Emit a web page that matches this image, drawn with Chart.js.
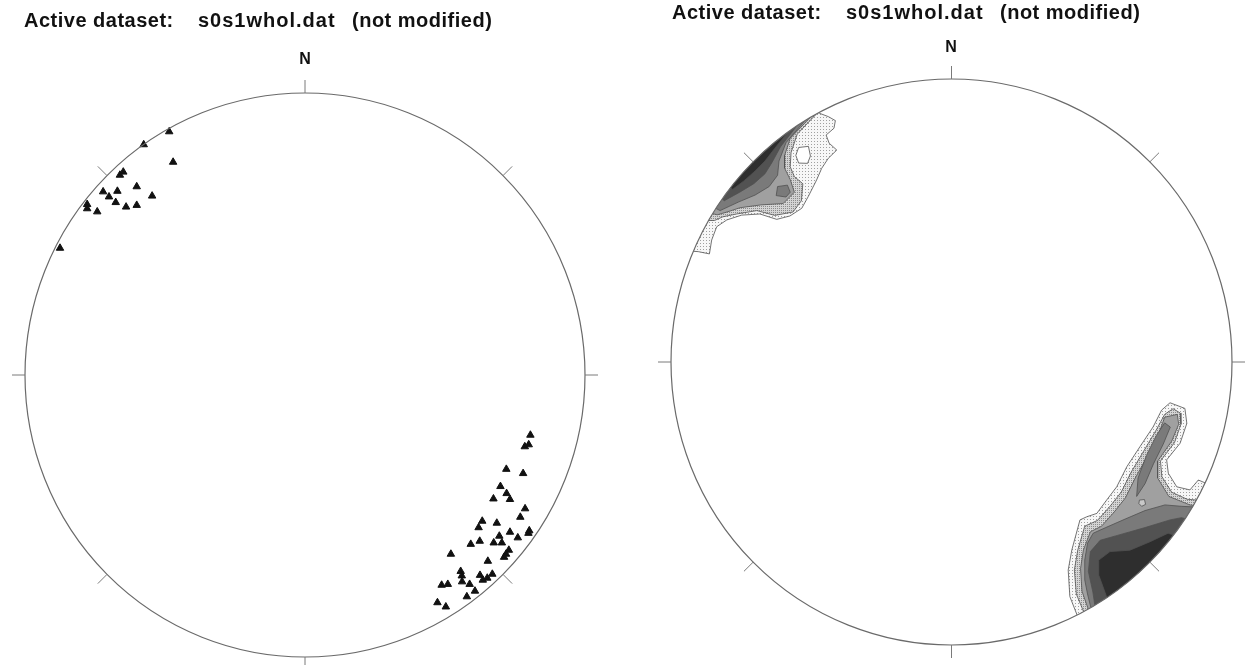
<!DOCTYPE html>
<html>
<head>
<meta charset="utf-8">
<title>s0s1whol.dat</title>
<script src="https://cdn.jsdelivr.net/npm/chart.js@4.4.1/dist/chart.umd.min.js"></script>
<style>
  html, body { margin: 0; padding: 0; background: #fff; }
  body { width: 1249px; height: 665px; position: relative; overflow: hidden;
         font-family: "Liberation Sans", Arial, sans-serif; color: #111; }
  canvas { position: absolute; top: 0; }
  .caption { position: absolute; font-weight: bold; font-size: 20px; line-height: 22px;
             letter-spacing: 0.5px; white-space: pre; }
  .caption.file { letter-spacing: 1px; }
  .north { position: absolute; font-weight: bold; font-size: 16px; line-height: 18px;
           width: 20px; margin-left: -10px; text-align: center; }
</style>
</head>
<body>
<canvas id="poles" width="624" height="665" style="left:0"></canvas>
<canvas id="density" width="624" height="665" style="left:625px"></canvas>
<div class="caption" style="left:24px; top:9px;">Active dataset:</div>
<div class="caption file" style="left:198px; top:9px;">s0s1whol.dat</div>
<div class="caption" style="left:352px; top:9px;">(not modified)</div>
<div class="caption" style="left:672px; top:1px;">Active dataset:</div>
<div class="caption file" style="left:846px; top:1px;">s0s1whol.dat</div>
<div class="caption" style="left:1000px; top:1px;">(not modified)</div>
<div class="north" style="left:305px; top:50px;">N</div>
<div class="north" style="left:951px; top:38px;">N</div>
<script>
// Poles of s0/s1 planes on the lower-hemisphere net, in percent of the primitive radius (E = +x, N = +y)
const poleX = [-48.5,-57.6,-47.1,-64.9,-66.1,-60.1,-72.1,-67.0,-70.0,-54.6,-67.6,-77.8,-77.8,-74.2,-63.9,-60.1,-87.5,
  80.5,78.5,79.9,71.9,77.9,69.8,72.0,67.3,73.2,78.6,76.9,63.3,68.5,62.0,73.2,80.1,79.8,69.4,76.0,62.4,
  59.2,67.4,70.3,72.8,71.8,71.1,52.1,65.3,55.6,56.0,62.5,65.1,66.9,63.5,56.1,58.8,48.8,51.0,60.7,57.8,47.3,50.3];
const poleY = [86.3,81.7,75.5,72.0,70.9,66.8,65.0,65.2,63.2,63.5,61.2,60.5,59.0,57.9,59.6,60.2,45.0,
  -21.3,-25.4,-24.7,-33.4,-34.9,-39.5,-42.0,-43.9,-44.1,-47.4,-50.4,-51.8,-52.5,-54.1,-55.7,-55.2,-56.1,-57.1,-57.7,-58.9,
  -60.0,-59.5,-59.5,-62.1,-63.5,-64.6,-63.5,-66.0,-69.6,-71.2,-71.0,-72.0,-70.6,-72.7,-73.3,-74.2,-74.5,-74.2,-76.6,-78.6,-80.7,-82.2];

// Density contours of the same poles; vertices beyond the primitive are cut off by the net outline
const nwLevel1 = [[-47.1,87.9],[-43.9,86.7],[-41.4,85.3],[-41.9,82.6],[-44.7,80.2],[-43.6,77.3],[-40.9,74.9],[-43.9,72.0],
  [-46.3,68.4],[-48.1,64.3],[-51.1,58.4],[-53.4,54.3],[-57.6,51.6],[-62.3,50.4],[-68.3,52.3],[-74.8,51.9],[-80.1,50.2],
  [-83.7,47.8],[-85.5,43.1],[-86.3,38.2],[-90.3,39.0],[-105,40],[-85,75],[-55,95],[-48,92],[-47.1,87.9]];
const nwGap = [[-54.5,75.8],[-51,76.2],[-50.3,72.8],[-51.3,70.2],[-54.5,70.3],[-55.5,73],[-54.5,75.8]];
const nwLevel2 = [[-48.5,87.3],[-55,80.5],[-57.2,74],[-57.5,69],[-56,65.5],[-53,63],[-53.5,57],[-56.5,53],[-63,51.8],
  [-69.4,53.5],[-76.6,52.3],[-81.5,51.3],[-84.5,50],[-97,50],[-72,86],[-50,95],[-48.5,87.3]];
const nwLevel3 = [[-50.5,86.3],[-57.5,79],[-59.5,73],[-59.5,68.5],[-57.5,64.5],[-56,60],[-60,56],[-68,55.5],[-75.4,54.5],
  [-80,53],[-83.5,52],[-96,55],[-72,88],[-52,94],[-50.5,86.3]];
const nwPeak = [[-62.0,62.0],[-58.5,62.5],[-57.5,60.0],[-59.0,58.3],[-62.5,58.8],[-62.0,62.0]];
const nwLevel4 = [[-52.5,85],[-59,77.5],[-61.5,71],[-62,66],[-65,62],[-70,59],[-76,56.5],[-82.5,53.5],[-95,60],[-70,90],
  [-55,93],[-52.5,85]];
const nwLevel5 = [[-55.5,83],[-61,76],[-64,70.5],[-66.5,66.5],[-70.5,63],[-75.5,60],[-81,57],[-92,66],[-70,90],[-57,92],
  [-55.5,83]];
const nwLevel6 = [[-58.5,81],[-63,75.5],[-66.5,71],[-70,67.5],[-74,64],[-78,61],[-90,70],[-70,90],[-60,90],[-58.5,81]];

const seLevel1 = [[74.9,-17.0],[77.9,-14.4],[83.2,-16.4],[83.9,-21.7],[81.5,-28.7],[76.7,-34.6],[77.3,-39.3],[80.3,-44.1],
  [85.0,-45.2],[88.0,-41.7],[103,-48],[80,-78],[50,-95],[45,-90],[42.2,-82.9],[41.6,-73.5],[42.9,-66.4],[45.8,-55.8],
  [48.2,-54.7],[51.8,-53.5],[55.3,-48.8],[58.9,-44.1],[62.5,-37.0],[67.2,-29.9],[71.9,-22.9],[74.9,-17.0]];
const seLevel2 = [[76,-18.5],[79,-16.5],[81.5,-18],[81.8,-22],[79.5,-28.5],[74.5,-35],[75,-40.5],[78.5,-46],[84,-48.5],
  [103,-50],[80,-80],[50,-95],[47,-88],[44.5,-82],[43.8,-73.5],[45,-66.5],[47.5,-58],[52,-56],[56.5,-51],[60.5,-46],
  [64,-39],[68.5,-31.5],[73,-24],[76,-18.5]];
const seLevel3 = [[76,-19.5],[80.5,-18.5],[81,-22],[78.5,-28],[73.5,-35],[73.5,-41],[77.5,-47.5],[85,-50.5],[103,-53],
  [78,-82],[50,-93],[49,-88],[46.5,-81],[46,-73],[47,-66.5],[49.5,-60],[53.5,-58],[58,-53],[62,-48],[65.5,-41],[70,-33],
  [74,-25],[76,-19.5]];
const seRidge = [[76,-21.5],[78,-23],[75.5,-29],[72,-36],[69,-43],[66,-47.5],[66.5,-41],[69.5,-33],[73,-26],[76,-21.5]];
const seGap = [[67,-48.8],[68.8,-48.6],[69.2,-50.3],[67.8,-51],[66.8,-50],[67,-48.8]];
const seLevel4 = [[48.5,-64],[50.5,-60.5],[55,-58.5],[61.9,-55.5],[69,-52.5],[76.1,-50.5],[82,-51],[103,-52],[78,-84],
  [51,-92],[48.5,-82],[47.5,-77],[47.5,-70],[48.5,-64]];
const seLevel5 = [[49.5,-67],[53,-63],[60.1,-61],[69,-58.5],[77.9,-55.8],[82,-55],[100,-60],[76,-87],[52,-92],[50.4,-81.3],
  [48.8,-74],[49.5,-67]];
const seLevel6 = [[52.5,-70],[56.5,-67],[63.6,-66.5],[70.8,-63.5],[77.2,-60.5],[95,-66],[72,-88],[57,-88],[54.7,-81.3],
  [52.5,-75.3],[52.5,-70]];

const levelShades = ['#f3f3f3', '#c8c8c8', '#a0a0a0', '#7a7a7a', '#525252', '#2e2e2e'];
const tickAzimuths = [0, 45, 90, 135, 180, 225, 270, 315];

// dotted fill used for the two lowest contour bands
function stipple(base, dot, step) {
  const tile = document.createElement('canvas');
  tile.width = step; tile.height = step;
  const t = tile.getContext('2d');
  t.fillStyle = base; t.fillRect(0, 0, step, step);
  t.fillStyle = dot; t.fillRect(0, 0, 1, 1);
  return t.createPattern(tile, 'repeat');
}

// primitive circle with outward azimuth ticks; optional clipping of the datasets to the net
const netFrame = {
  id: 'netFrame',
  beforeDatasetsDraw(chart, args, opts) {
    if (!opts.clip) return;
    const {ctx, scales: {x, y}} = chart;
    const cx = x.getPixelForValue(0), cy = y.getPixelForValue(0);
    const rx = x.getPixelForValue(100) - cx, ry = cy - y.getPixelForValue(100);
    ctx.save();
    ctx.beginPath();
    ctx.ellipse(cx, cy, rx, ry, 0, 0, Math.PI * 2);
    ctx.clip();
  },
  afterDatasetsDraw(chart, args, opts) {
    const {ctx, scales: {x, y}} = chart;
    if (opts.clip) ctx.restore();
    const cx = x.getPixelForValue(0), cy = y.getPixelForValue(0);
    const rx = x.getPixelForValue(100) - cx, ry = cy - y.getPixelForValue(100);
    ctx.save();
    ctx.strokeStyle = '#6a6a6a';
    ctx.lineWidth = 1.2;
    ctx.beginPath();
    ctx.ellipse(cx, cy, rx, ry, 0, 0, Math.PI * 2);
    ctx.stroke();
    ctx.strokeStyle = '#7a7a7a';
    ctx.lineWidth = 1;
    tickAzimuths.forEach(az => {
      const a = az * Math.PI / 180, ux = Math.sin(a), uy = -Math.cos(a);
      ctx.beginPath();
      ctx.moveTo(cx + rx * ux, cy + ry * uy);
      ctx.lineTo(cx + (rx + opts.tick) * ux, cy + (ry + opts.tick) * uy);
      ctx.stroke();
    });
    ctx.restore();
  }
};

const netScales = {
  x: { type: 'linear', min: -100, max: 100, display: false },
  y: { type: 'linear', min: -100, max: 100, display: false }
};
const common = {
  responsive: false,
  animation: false,
  events: [],
  plugins: { legend: { display: false }, tooltip: { enabled: false } }
};

new Chart(document.getElementById('poles'), {
  type: 'scatter',
  data: {
    datasets: [{
      data: poleX.map((v, i) => ({ x: v, y: poleY[i] })),
      pointStyle: 'triangle',
      pointRadius: 4.3,
      pointBackgroundColor: '#111111',
      pointBorderColor: '#111111',
      pointBorderWidth: 1
    }]
  },
  options: {
    ...common,
    layout: { padding: { left: 25, right: 39, top: 93, bottom: 8 } },
    scales: netScales,
    plugins: { ...common.plugins, netFrame: { tick: 13, clip: false } }
  },
  plugins: [netFrame]
});

function band(points, shade, order) {
  return {
    type: 'line',
    data: points.map(([x, y]) => ({ x, y })),
    fill: 'shape',
    backgroundColor: shade,
    borderColor: '#505050',
    borderWidth: 0.8,
    pointRadius: 0,
    tension: 0,
    order
  };
}

const lowest = stipple('#f7f7f7', '#a0a0a0', 3);
const second = stipple('#d4d4d4', '#8c8c8c', 2);
new Chart(document.getElementById('density'), {
  type: 'line',
  data: {
    datasets: [
      band(nwLevel1, lowest, 20), band(seLevel1, lowest, 20),
      band(nwGap, '#ffffff', 19),
      band(nwLevel2, second, 18), band(seLevel2, second, 18),
      band(nwLevel3, levelShades[2], 17), band(seLevel3, levelShades[2], 17),
      band(nwPeak, levelShades[3], 16), band(seRidge, levelShades[3], 16),
      band(seGap, levelShades[1], 15),
      band(nwLevel4, levelShades[3], 14), band(seLevel4, levelShades[3], 14),
      band(nwLevel5, levelShades[4], 13), band(seLevel5, levelShades[4], 13),
      band(nwLevel6, levelShades[5], 12), band(seLevel6, levelShades[5], 12)
    ]
  },
  options: {
    ...common,
    layout: { padding: { left: 46, right: 17, top: 79, bottom: 20 } },
    scales: netScales,
    plugins: { ...common.plugins, netFrame: { tick: 13, clip: true } }
  },
  plugins: [netFrame]
});
</script>
</body>
</html>
